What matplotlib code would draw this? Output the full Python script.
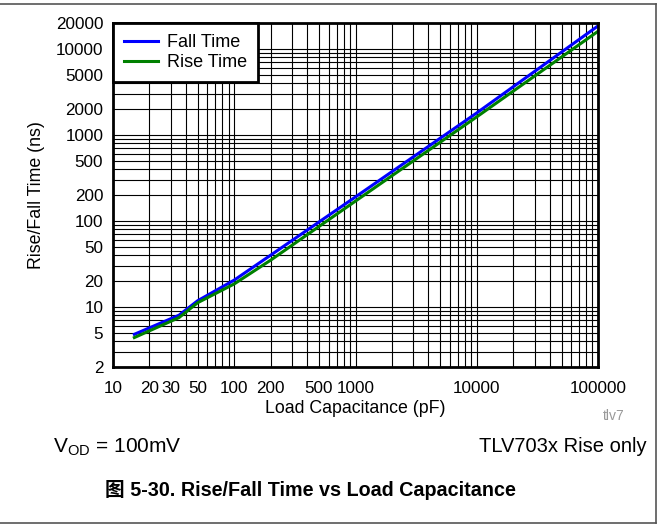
import numpy as np
import matplotlib
matplotlib.use("Agg")
import matplotlib.pyplot as plt
from matplotlib.ticker import FixedLocator, NullFormatter, LogLocator
from matplotlib.lines import Line2D

plt.rcParams["font.family"] = ["Liberation Sans", "Noto Sans CJK SC", "DejaVu Sans"]

# Load capacitance (pF) and measured edge times (ns)
cap_pf = [15, 35, 50, 100, 200, 1000, 10000, 100000]
fall_ns = [4.8, 8.0, 11.8, 20.5, 40, 190, 1800, 18500]
rise_ns = [4.4, 7.5, 11.2, 18.5, 35, 170, 1620, 16000]

x_ticks = [10, 20, 30, 50, 100, 200, 500, 1000, 10000, 100000]
x_labels = ["10", "20", "30", "50", "100", "200", "500", "1000", "10000", "100000"]
y_ticks = [2, 5, 10, 20, 50, 100, 200, 500, 1000, 2000, 5000, 10000, 20000]

W, H = 665, 529
fig = plt.figure(figsize=(W / 100, H / 100), dpi=100)
ax = fig.add_axes([113 / W, 1 - 367 / H, (598 - 113) / W, (367 - 23) / H])

ax.plot(cap_pf, fall_ns, color="#0000ff", lw=2.2, label="Fall Time", zorder=3)
ax.plot(cap_pf, rise_ns, color="#008000", lw=2.2, label="Rise Time", zorder=3)

ax.set_xscale("log")
ax.set_yscale("log")
ax.set_xlim(10, 100000)
ax.set_ylim(2, 20000)

ax.xaxis.set_major_locator(FixedLocator(x_ticks))
ax.set_xticklabels(x_labels)
ax.xaxis.set_minor_locator(LogLocator(base=10, subs=np.arange(2, 10)))
ax.xaxis.set_minor_formatter(NullFormatter())
ax.yaxis.set_major_locator(FixedLocator(y_ticks))
ax.set_yticklabels([str(v) for v in y_ticks])
ax.yaxis.set_minor_locator(LogLocator(base=10, subs=np.arange(2, 10)))
ax.yaxis.set_minor_formatter(NullFormatter())

ax.tick_params(which="both", length=0)
ax.tick_params(axis="x", pad=10, labelsize=12.3)
ax.tick_params(axis="y", pad=7, labelsize=12.3)
ax.grid(True, which="both", color="black", lw=0.8)

for s in ax.spines.values():
    s.set_linewidth(2)
    s.set_color("black")
    s.set_zorder(4)

ax.set_xlabel("Load Capacitance (pF)", fontsize=12.8, labelpad=3)
ax.set_ylabel("Rise/Fall Time (ns)", fontsize=12.8, labelpad=8)

leg = ax.legend(loc="upper left", borderaxespad=0, fontsize=13, fancybox=False,
                framealpha=1, edgecolor="black", handlelength=1.9,
                borderpad=0.6, labelspacing=0.2, handletextpad=0.5)
leg.get_frame().set_linewidth(2)
leg.set_zorder(5)

fig.text(614 / W, 1 - 416 / H, "tlv7", fontsize=10, color="#999999", ha="center", va="center")

fig.text(53 / W, 1 - 452 / H, r"V$_{\mathregular{OD}}$ = 100mV", fontsize=15, ha="left", va="baseline")
fig.text(647 / W, 1 - 452 / H, "TLV703x Rise only", fontsize=14.5, ha="right", va="baseline")
fig.text(105 / W, 1 - 496 / H, "图 5-30. Rise/Fall Time vs Load Capacitance", fontsize=14.2,
         fontweight="bold", ha="left", va="baseline")

# outer frame lines
frame = "#555555"
fig.add_artist(Line2D([0, 656 / W], [1 - 4 / H, 1 - 4 / H], color=frame, lw=1.2))
fig.add_artist(Line2D([656 / W, 656 / W], [1 - 4 / H, 1 - 523 / H], color=frame, lw=1.2))
fig.add_artist(Line2D([0, 656 / W], [1 - 523 / H, 1 - 523 / H], color=frame, lw=1.2))

fig.savefig("out.png", dpi=100)
